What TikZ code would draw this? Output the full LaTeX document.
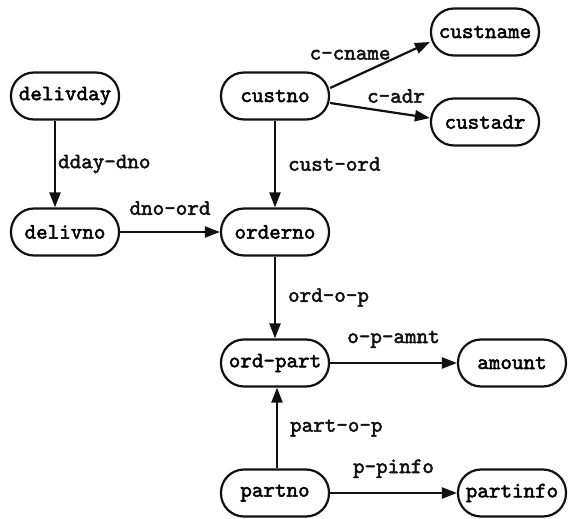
\documentclass[tikz,border=0pt]{standalone}
\usepackage{fontspec}
\newfontfamily\slabtt[FakeBold=2.2]{Latin Modern Mono}
\usetikzlibrary{arrows.meta}
\definecolor{inkLine}{HTML}{111111}
\definecolor{paperBg}{HTML}{FFFFFF}

\tikzset{
  entity/.style={draw=inkLine, line width=1.1pt, rounded corners=11.5pt,
                 minimum width=54pt, minimum height=23.5pt, inner sep=2pt,
                 font=\slabtt\fontsize{11}{12}\selectfont},
  link/.style={draw=inkLine, line width=1.1pt, -{Triangle[length=7.5pt,width=5.5pt]}},
  role/.style={inner sep=1pt, text=inkLine,
               font=\slabtt\fontsize{11}{12}\selectfont},
}

\begin{document}
\begin{tikzpicture}[x=0.5pt, y=-0.5pt]
  \fill[paperBg] (0,0) rectangle (568,519);
  \useasboundingbox (0,0) rectangle (568,519);

  % entities
  \node[entity] (delivday) at (65,96)   {delivday};
  \node[entity] (delivno)  at (65,232)  {delivno};
  \node[entity] (custno)   at (275,96)  {custno};
  \node[entity] (custname) at (485,32)  {custname};
  \node[entity] (custadr)  at (485,122) {custadr};
  \node[entity] (orderno)  at (275,232) {orderno};
  \node[entity] (ordpart)  at (275,363) {ord-part};
  \node[entity] (amount)   at (512,363) {amount};
  \node[entity] (partno)   at (275,493) {partno};
  \node[entity] (partinfo) at (512,493) {partinfo};

  % relationships
  \draw[link] ([xshift=-5pt]delivday.south) -- ([xshift=-5pt]delivno.north)
    node[role, midway, right=0pt] {dday-dno};
  \draw[link] (custno.south) -- (orderno.north)
    node[role, midway, right=5pt] {cust-ord};
  \draw[link] ([yshift=4pt]custno.east) -- ([yshift=-5pt]custname.west)
    node[role, pos=0.2, above=8pt] {c-cname};
  \draw[link] ([yshift=-3.5pt]custno.east) -- ([yshift=2pt]custadr.west)
    node[role, pos=0.66, above=3.5pt] {c-adr};
  \draw[link] (delivno.east) -- (orderno.west)
    node[role, midway, above=7pt] {dno-ord};
  \draw[link] (orderno.south) -- (ordpart.north)
    node[role, midway, right=5pt] {ord-o-p};
  \draw[link] (ordpart.east) -- (amount.west)
    node[role, midway, above=6pt] {o-p-amnt};
  \draw[link] ([xshift=1pt]partno.north) -- ([xshift=1pt]ordpart.south)
    node[role, midway, right=5pt] {part-o-p};
  \draw[link] (partno.east) -- (partinfo.west)
    node[role, midway, above=6pt] {p-pinfo};
\end{tikzpicture}
\end{document}
